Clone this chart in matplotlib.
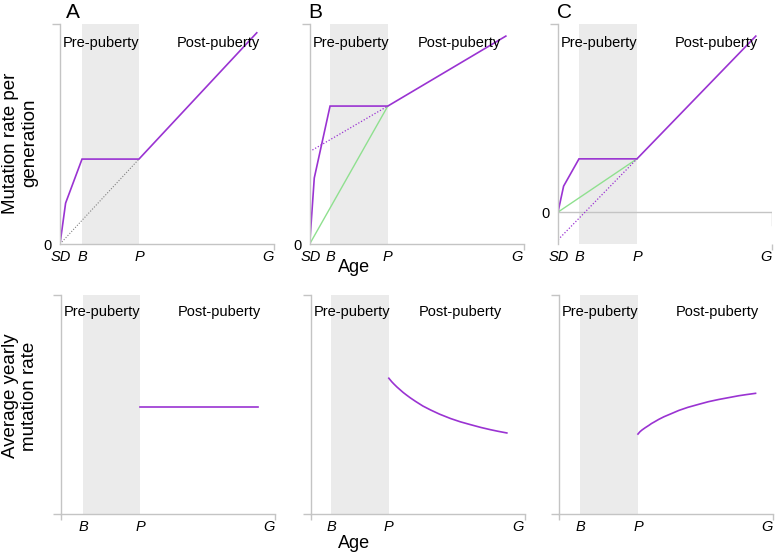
import numpy as np
import matplotlib.pyplot as plt

plt.rcParams['font.family'] = ['Liberation Sans', 'DejaVu Sans']

# ages (arbitrary units, G = 10)
x_end = 10.3
g_age = 10.0

# per-generation mutation rate (top row)
a_x = [0, 0.27, 1.06, 3.8, 9.47]
a_y = [0, 0.186, 0.386, 0.386, 0.96]
a_ref_y = [0, 0.386]

b_x = [0, 0.22, 0.98, 3.76, 9.44]
b_y = [0, 0.30, 0.627, 0.627, 0.945]
b_ext_y = [0.42, 0.627]
b_green_y = [0, 0.627]

c_x = [0, 0.27, 1.01, 3.8, 9.52]
c_y = [0, 0.118, 0.242, 0.242, 0.80]
c_ext_y = [-0.126, 0.242]
c_green_y = [0, 0.242]

# average yearly mutation rate (bottom row)
yr_a_x = [3.8, 9.5]
yr_a_y = [0.49, 0.49]
yr_b_x = [3.76, 3.9, 4.0, 4.15, 4.33, 4.45, 4.6, 4.8, 5.05, 5.4,
          5.77, 6.2, 6.73, 7.2, 7.69, 8.2, 8.65, 9.0, 9.44]
yr_b_y = [0.620, 0.604, 0.594, 0.580, 0.565, 0.555, 0.544, 0.530, 0.514, 0.493,
          0.475, 0.456, 0.436, 0.421, 0.408, 0.395, 0.385, 0.378, 0.370]
yr_c_x = [3.8, 3.9, 4.0, 4.15, 4.33, 4.45, 4.6, 4.8, 5.05, 5.4,
          5.77, 6.2, 6.73, 7.2, 7.69, 8.2, 8.65, 9.0, 9.46]
yr_c_y = [0.365, 0.376, 0.384, 0.394, 0.405, 0.413, 0.421, 0.432, 0.444, 0.458,
          0.473, 0.487, 0.501, 0.513, 0.523, 0.532, 0.540, 0.545, 0.551]

post_text_x = [7.6, 7.2, 7.6]
letters = ['A', 'B', 'C']

purple = '#9a33d2'
green = '#8fe08f'
spine_c = '#c4c4c4'
shade_c = '#ebebeb'

W, H = 778, 554
fig = plt.figure(figsize=(W / 100, H / 100), dpi=100)

def px_ax(left, bottom, height, width=214):
    return fig.add_axes([left / W, (H - bottom) / H, width / W, height / H])

def style(ax, ylim, ticks, labels, bottom_row):
    ax.set_xlim(0, x_end)
    ax.set_ylim(*ylim)
    for s in ['top', 'right']:
        ax.spines[s].set_visible(False)
    for s in ['left', 'bottom']:
        ax.spines[s].set_color(spine_c)
        ax.spines[s].set_linewidth(1.0)
    ax.set_xticks(ticks, labels, fontstyle='italic', fontsize=10.5)
    ax.tick_params(axis='x', which='major', length=0, pad=4)
    if bottom_row:
        ax.set_yticks([])
        ax.set_yticks([0, ylim[1]], minor=True)
        ax.set_xticks([0, x_end], minor=True)
    else:
        ax.set_yticks([0], ['0'], fontsize=10.5)
        ax.tick_params(axis='y', which='major', length=0, pad=6)
        ax.set_yticks([ylim[1]], minor=True)
        ax.set_xticks([x_end], minor=True)
    ax.tick_params(axis='y', which='minor', length=6, color=spine_c, width=1)
    ax.tick_params(axis='x', which='minor', length=4, color=spine_c, width=1)

def shade_and_text(ax, b, p, post_x, ty):
    ax.axvspan(b, p, color=shade_c, lw=0, zorder=0)
    ax.text(1.97, ty, 'Pre-puberty', fontsize=10.5, ha='center', va='center',
            transform=ax.get_xaxis_transform())
    ax.text(post_x, ty, 'Post-puberty', fontsize=10.5, ha='center', va='center',
            transform=ax.get_xaxis_transform())

top_lefts = [60, 309.7, 558]
bot_lefts = [61, 310.7, 559]
xs = [a_x, b_x, c_x]
ys = [a_y, b_y, c_y]
yr_xs = [yr_a_x, yr_b_x, yr_c_x]
yr_ys = [yr_a_y, yr_b_y, yr_c_y]

for i in range(3):
    x = xs[i]
    y = ys[i]
    bx, px = x[2], x[3]
    # top row
    if i == 2:
        ylim = (-0.145, 0.855)
    else:
        ylim = (0, 1)
    ax = px_ax(top_lefts[i], 244, 220)
    style(ax, ylim, [0.05, bx, px, g_age], ['SD', 'B', 'P', 'G'], False)
    shade_and_text(ax, bx, px, post_text_x[i], 1 - 19 / 220)
    if i == 0:
        ax.plot([0, px], a_ref_y, color='#808080', lw=0.8, ls=(0, (1, 1.5)))
    elif i == 1:
        ax.plot([0, px], b_green_y, color=green, lw=1.0)
        ax.plot([0, px], b_ext_y, color=purple, lw=0.9, ls=(0, (1, 1.5)))
    else:
        ax.spines['bottom'].set_visible(False)
        ax.axhline(0, color=spine_c, lw=1.0, zorder=0.5)
        f0 = -ylim[0] / (ylim[1] - ylim[0])
        ax.axvline(x_end, ymin=f0 - 0.06, ymax=f0, color=spine_c, lw=1.0)
        ax.plot([0, px], c_green_y, color=green, lw=1.0)
        ax.plot([0, px], c_ext_y, color=purple, lw=0.9, ls=(0, (1, 1.5)))
    ax.plot(x, y, color=purple, lw=1.2, solid_joinstyle='miter')

    # bottom row
    ax2 = px_ax(bot_lefts[i], 514, 219)
    style(ax2, (0, 1), [bx, px, g_age], ['B', 'P', 'G'], True)
    shade_and_text(ax2, bx, px, post_text_x[i], 1 - 17 / 219)
    ax2.plot(yr_xs[i], yr_ys[i], color=purple, lw=1.2)

    fig.text([73, 315, 564][i] / W, 1 - 13 / H, letters[i], fontsize=15,
             ha='center', va='center')

fig.text(20 / W, 1 - 143 / H, 'Mutation rate per\ngeneration', rotation=90,
         fontsize=13.5, ha='center', va='center', multialignment='center')
fig.text(20 / W, 1 - 396 / H, 'Average yearly\nmutation rate', rotation=90,
         fontsize=13.5, ha='center', va='center', multialignment='center')
fig.text(354 / W, 1 - 268 / H, 'Age', fontsize=13, ha='center', va='center')
fig.text(354 / W, 1 - 543 / H, 'Age', fontsize=13, ha='center', va='center')

fig.savefig('out.png', dpi=100)
